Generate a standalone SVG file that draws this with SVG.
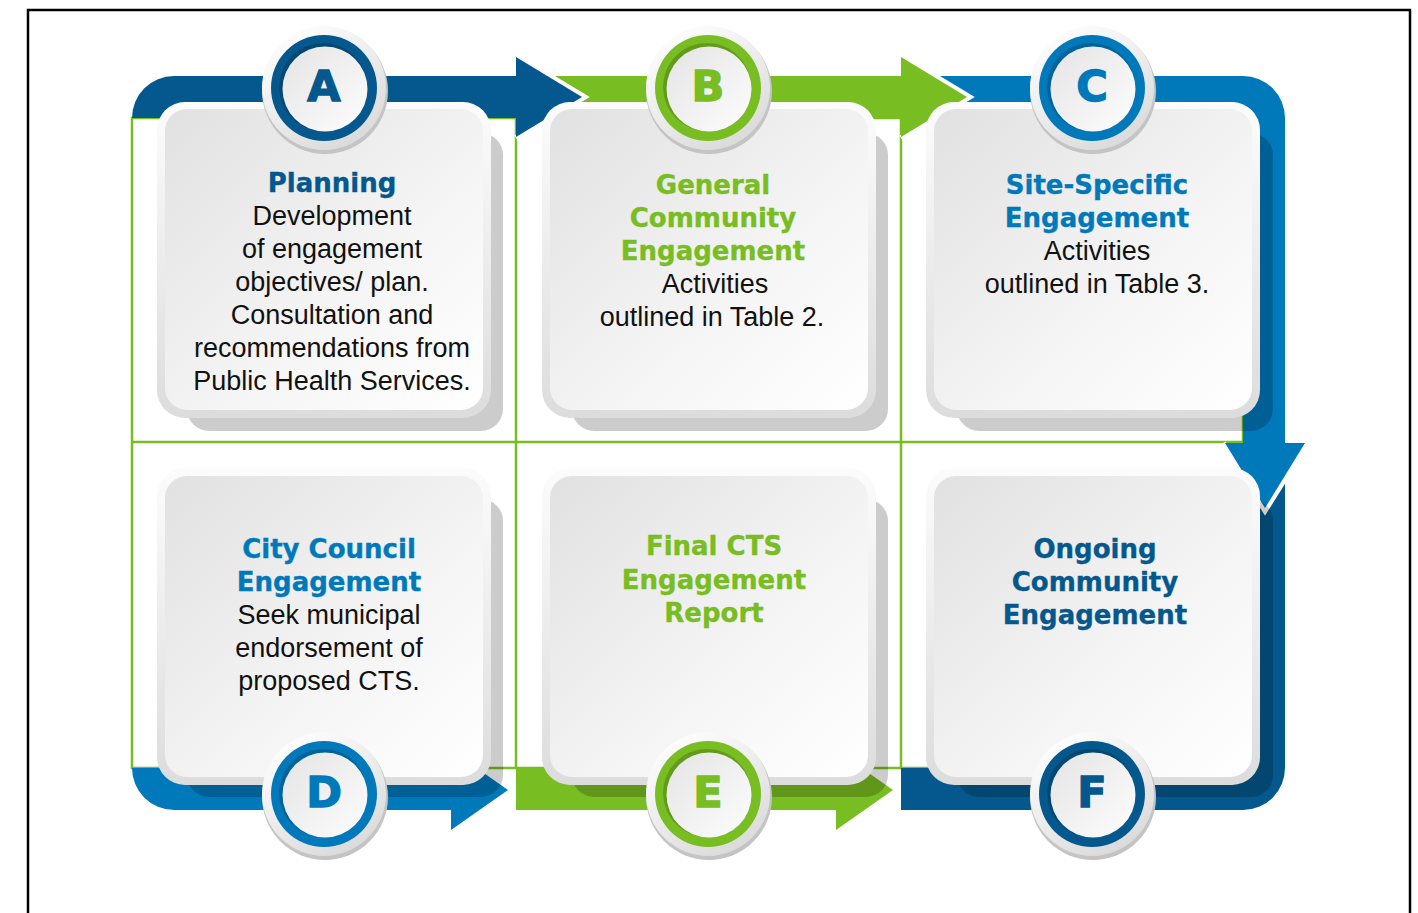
<svg xmlns="http://www.w3.org/2000/svg" width="1418" height="913" viewBox="0 0 1418 913">
<defs>
<linearGradient id="rim" x1="0" y1="0" x2="0" y2="1"><stop offset="0" stop-color="#fcfcfc"/><stop offset="1" stop-color="#dcdcdc"/></linearGradient>
<linearGradient id="face" x1="0" y1="0" x2="1" y2="1"><stop offset="0" stop-color="#e1e1e1"/><stop offset="0.6" stop-color="#f5f5f5"/><stop offset="1" stop-color="#ffffff"/></linearGradient>
<linearGradient id="disc" x1="0.2" y1="0" x2="0.8" y2="1"><stop offset="0" stop-color="#ffffff"/><stop offset="1" stop-color="#d8d8d8"/></linearGradient>
<linearGradient id="inner" x1="0" y1="0" x2="1" y2="1"><stop offset="0" stop-color="#e4e4e4"/><stop offset="1" stop-color="#fdfdfd"/></linearGradient>
<style>
.grid{stroke:#78bd21;stroke-width:2.5;fill:none}
.rim{fill:url(#rim)}
.face{fill:url(#face)}
.shadow{fill:#000;fill-opacity:0.2}
.cshadow{fill:#c4c4c4}
.disc{fill:url(#disc)}
.inner{fill:url(#inner)}
.ishade{fill:#000;fill-opacity:0.18}
.wedge{fill:none;stroke:#fff;stroke-width:6;stroke-linejoin:miter}
.t{font-family:"DejaVu Sans",sans-serif;font-weight:bold;font-size:26px;text-anchor:middle;stroke-width:0.35}
.b{font-family:"Liberation Sans",Arial,sans-serif;font-size:27px;text-anchor:middle;fill:#111}
.L{font-family:"DejaVu Sans",sans-serif;font-weight:bold;font-size:43px;text-anchor:middle;stroke-width:1.4}
.dk{fill:#04588d}.lt{fill:#0079bb}.gr{fill:#78bd21}
text.dk{stroke:#04588d}text.lt{stroke:#0079bb}text.gr{stroke:#78bd21}
</style>
</defs>
<rect x="0" y="0" width="1418" height="913" fill="#fff"/>
<rect x="28" y="10" width="1382" height="930" fill="none" stroke="#000" stroke-width="2.5"/>

<g id="grid">
<rect class="grid" x="132" y="118" width="1111" height="650"/>
<line class="grid" x1="516" y1="118" x2="516" y2="768"/>
<line class="grid" x1="901" y1="118" x2="901" y2="768"/>
<line class="grid" x1="132" y1="442" x2="1243" y2="442"/>
</g>

<g id="connectors">
<path class="dk" d="M132,118 A42,42 0 0 1 174,76 H520 V118 Z"/>
<path class="gr" d="M516,76 H905 V118 H516 Z"/>
<path class="wedge" d="M516,56 L584,97 L516,138"/>
<polygon class="dk" points="516,57 582,97 516,137"/>
<path class="lt" d="M901,76 H1243 A42,42 0 0 1 1285,118 V445 H1243 V118 H901 Z"/>
<path class="wedge" d="M901,56 L969,97 L901,138"/>
<polygon class="gr" points="901,57 967,97 901,137"/>
<path class="dk" d="M1243,443 H1285 V768 A42,42 0 0 1 1243,810 H901 V768 H1243 Z"/>
<path class="wedge" d="M1223,443 L1265,510 L1307,443"/>
<polygon class="lt" points="1225,443 1305,443 1265,508"/>
<path class="gr" d="M516,768 H840 V810 H516 Z"/>
<polygon class="gr" points="836,750 893,790 836,830"/>
<path class="lt" d="M132,768 A42,42 0 0 0 174,810 H455 V768 Z"/>
<polygon class="lt" points="451,750 508,790 451,830"/>
</g>

<g id="nodeA">
<rect class="shadow" x="187" y="133" width="316" height="298" rx="22"/>
<rect class="rim" x="157" y="102" width="334" height="316" rx="28"/>
<rect class="face" x="165" y="109" width="318" height="301" rx="22"/>
<circle class="cshadow" cx="325" cy="91" r="63"/>
<circle class="disc" cx="324" cy="88" r="62"/>
<circle class="dk" cx="324" cy="88" r="53"/>
<circle class="ishade" cx="323" cy="87" r="44"/>
<circle class="inner" cx="325" cy="89" r="42.5"/>
<text class="L dk" x="324" y="101">A</text>
<text class="t dk" x="332" y="192">Planning</text>
<text class="b" x="332" y="225">Development</text>
<text class="b" x="332" y="258">of engagement</text>
<text class="b" x="332" y="291">objectives/ plan.</text>
<text class="b" x="332" y="324">Consultation and</text>
<text class="b" x="332" y="357">recommendations from</text>
<text class="b" x="332" y="390">Public Health Services.</text>
</g>

<g id="nodeB">
<rect class="shadow" x="572" y="133" width="316" height="298" rx="22"/>
<rect class="rim" x="542" y="102" width="334" height="316" rx="28"/>
<rect class="face" x="550" y="109" width="318" height="301" rx="22"/>
<circle class="cshadow" cx="709" cy="91" r="63"/>
<circle class="disc" cx="708" cy="88" r="62"/>
<circle class="gr" cx="708" cy="88" r="53"/>
<circle class="ishade" cx="707" cy="87" r="44"/>
<circle class="inner" cx="709" cy="89" r="42.5"/>
<text class="L gr" x="708" y="101">B</text>
<text class="t gr" x="713" y="194">General</text>
<text class="t gr" x="713" y="227">Community</text>
<text class="t gr" x="713" y="260">Engagement</text>
<text class="b" x="715" y="293">Activities</text>
<text class="b" x="712" y="326">outlined in Table 2.</text>
</g>

<g id="nodeC">
<rect class="shadow" x="957" y="133" width="316" height="298" rx="22"/>
<rect class="rim" x="926" y="102" width="334" height="316" rx="28"/>
<rect class="face" x="934" y="109" width="318" height="301" rx="22"/>
<circle class="cshadow" cx="1093" cy="91" r="63"/>
<circle class="disc" cx="1092" cy="88" r="62"/>
<circle class="lt" cx="1092" cy="88" r="53"/>
<circle class="ishade" cx="1091" cy="87" r="44"/>
<circle class="inner" cx="1093" cy="89" r="42.5"/>
<text class="L lt" x="1092" y="101">C</text>
<text class="t lt" x="1097" y="194">Site-Specific</text>
<text class="t lt" x="1097" y="227">Engagement</text>
<text class="b" x="1097" y="260">Activities</text>
<text class="b" x="1097" y="293">outlined in Table 3.</text>
</g>

<g id="nodeD">
<rect class="shadow" x="187" y="499" width="316" height="298" rx="22"/>
<rect class="rim" x="157" y="468" width="334" height="317" rx="28"/>
<rect class="face" x="165" y="476" width="318" height="301" rx="22"/>
<circle class="cshadow" cx="325" cy="797" r="63"/>
<circle class="disc" cx="324" cy="794" r="62"/>
<circle class="lt" cx="324" cy="794" r="53"/>
<circle class="ishade" cx="323" cy="793" r="44"/>
<circle class="inner" cx="325" cy="795" r="42.5"/>
<text class="L lt" x="324" y="807">D</text>
<text class="t lt" x="329" y="558">City Council</text>
<text class="t lt" x="329" y="591">Engagement</text>
<text class="b" x="329" y="624">Seek municipal</text>
<text class="b" x="329" y="657">endorsement of</text>
<text class="b" x="329" y="690">proposed CTS.</text>
</g>

<g id="nodeE">
<rect class="shadow" x="572" y="499" width="316" height="298" rx="22"/>
<rect class="rim" x="542" y="468" width="334" height="317" rx="28"/>
<rect class="face" x="550" y="476" width="318" height="301" rx="22"/>
<circle class="cshadow" cx="709" cy="797" r="63"/>
<circle class="disc" cx="708" cy="794" r="62"/>
<circle class="gr" cx="708" cy="794" r="53"/>
<circle class="ishade" cx="707" cy="793" r="44"/>
<circle class="inner" cx="709" cy="795" r="42.5"/>
<text class="L gr" x="708" y="807">E</text>
<text class="t gr" x="714" y="555">Final CTS</text>
<text class="t gr" x="714" y="589">Engagement</text>
<text class="t gr" x="714" y="622">Report</text>
</g>

<g id="nodeF">
<rect class="shadow" x="957" y="499" width="316" height="298" rx="22"/>
<rect class="rim" x="926" y="468" width="334" height="317" rx="28"/>
<rect class="face" x="934" y="476" width="318" height="301" rx="22"/>
<circle class="cshadow" cx="1093" cy="797" r="63"/>
<circle class="disc" cx="1092" cy="794" r="62"/>
<circle class="dk" cx="1092" cy="794" r="53"/>
<circle class="ishade" cx="1091" cy="793" r="44"/>
<circle class="inner" cx="1093" cy="795" r="42.5"/>
<text class="L dk" x="1092" y="807">F</text>
<text class="t dk" x="1095" y="558">Ongoing</text>
<text class="t dk" x="1095" y="591">Community</text>
<text class="t dk" x="1095" y="624">Engagement</text>
</g>
</svg>
